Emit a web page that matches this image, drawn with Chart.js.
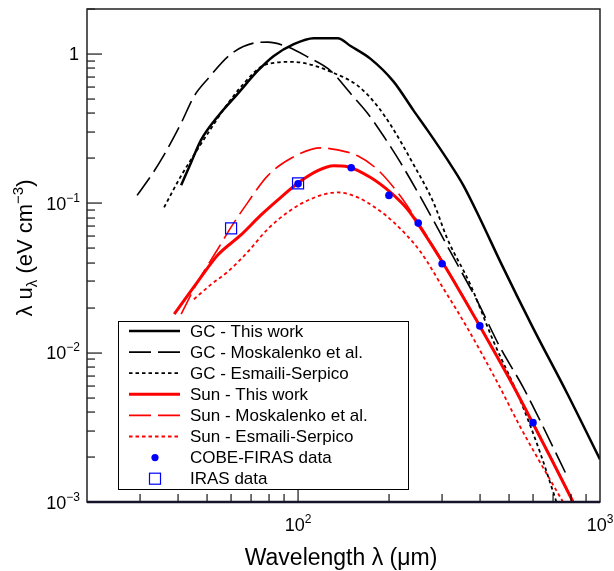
<!DOCTYPE html>
<html lang="en">
<head>
    <meta charset="UTF-8">
    <title>Interstellar radiation field: dust emission</title>
    <script src="https://cdn.jsdelivr.net/npm/chart.js@4"></script>
    <style>
        body{margin:0;background:#fff;}
        canvas{display:block;}
    </style>
</head>
<body>
    <canvas id="isrf" width="614" height="571"></canvas>
    <script>
        // wavelength (um) and lambda*u_lambda (eV cm^-3)
        const gcThisX=[41.0,44.2,47.7,54.3,63.2,73.6,83.1,96.8,112.7,135.3,149.3,173.9,207.2,241.1,268.2,312.3,352.7,401.4,467.4,600.6,778,1000];
        const gcThisY=[0.132,0.187,0.265,0.383,0.543,0.772,0.970,1.165,1.276,1.276,1.13,0.927,0.653,0.419,0.309,0.196,0.132,0.0783,0.0407,0.0146,0.00535,0.00193];

        const gcMoskX=[29.3,32.6,36.0,41.0,45.2,50.3,60.0,71.4,79.4,92.5,107.6,128.2,149.3,169.9,191.9,218.5,260.2,319.5,392.4,467.4,556.7,648.1,778];
        const gcMoskY=[0.113,0.153,0.211,0.344,0.519,0.683,1.0,1.183,1.201,1.113,0.955,0.772,0.543,0.401,0.282,0.187,0.1015,0.0474,0.0221,0.0108,0.00586,0.00319,0.00149];

        const gcEsmX=[36.0,41.0,44.2,50.3,58.6,66.1,75.3,83.1,94.6,107.6,128.2,157.5,183.4,205.6,239.4,280.7,312.3,372.0,443.1,544.1,633.5,699.4,721];
        const gcEsmY=[0.094,0.153,0.196,0.295,0.467,0.633,0.820,0.872,0.885,0.859,0.760,0.614,0.446,0.319,0.187,0.1015,0.0578,0.0286,0.0120,0.00481,0.00214,0.00117,0.00097];

        const sunThisX=[38.9,46.6,54.3,64.7,75.3,87.7,100.5,116.2,131.2,146.0,173.9,202.4,230.4,248.6,302.9,401.4,504.3,600.6,699.4,814.4];
        const sunThisY=[0.0181,0.0300,0.0452,0.0614,0.0833,0.1096,0.1377,0.1654,0.1785,0.1758,0.1487,0.1183,0.0913,0.0737,0.0394,0.01487,0.00653,0.00334,0.00184,0.001];

        const sunMoskX=[41.0,46.6,54.3,60.0,68.2,79.4,96.8,118.9,135.3,157.5,183.4,213.6,241.1,302.9,402.5,505.5,602,701,816];
        const sunMoskY=[0.0181,0.0300,0.0496,0.0693,0.1015,0.1533,0.2048,0.2349,0.2278,0.2079,0.168,0.1183,0.0833,0.0400,0.01487,0.00653,0.00334,0.00184,0.001];

        const sunEsmX=[45.2,51.5,58.6,68.2,79.4,92.5,104.4,121.6,135.3,157.5,183.4,207.2,254.3,302.9,363.6,453.3,544.1,633.5,754.6];
        const sunEsmY=[0.0228,0.0286,0.0349,0.0474,0.0673,0.0872,0.1015,0.1147,0.1183,0.1096,0.0913,0.0748,0.0474,0.0269,0.01464,0.00653,0.00319,0.00184,0.001];

        const cobeX=[100,150,200,250,300,400,600];
        const cobeY=[0.135,0.173,0.113,0.0737,0.0394,0.0151,0.0034];

        const irasX=[60,100];
        const irasY=[0.068,0.136];

        const FONT='"Liberation Sans", Arial, Helvetica, sans-serif';

        function pts(xs,ys){
            return xs.map((x,i)=>({x:x,y:ys[i]}));
        }

        function curve(label,xs,ys,color,width,dash,order){
            return {
                label:label,
                data:pts(xs,ys),
                showLine:true,
                borderColor:color,
                borderWidth:width,
                borderDash:dash,
                pointRadius:0,
                cubicInterpolationMode:'monotone',
                clip:0,
                order:order
            };
        }

        const LONG=[22,7];
        const DOT=[3.5,3];

        const datasets=[
            curve('GC - This work',gcThisX,gcThisY,'#000000',2.5,[],2),
            curve('GC - Moskalenko et al.',gcMoskX,gcMoskY,'#000000',1.6,LONG,3),
            curve('GC - Esmaili-Serpico',gcEsmX,gcEsmY,'#000000',1.8,DOT,3),
            curve('Sun - This work',sunThisX,sunThisY,'#ff0000',3,[],1),
            curve('Sun - Moskalenko et al.',sunMoskX,sunMoskY,'#ff0000',1.6,LONG,3),
            curve('Sun - Esmaili-Serpico',sunEsmX,sunEsmY,'#ff0000',1.8,DOT,3),
            {
                label:'COBE-FIRAS data',
                data:pts(cobeX,cobeY),
                showLine:false,
                pointStyle:'circle',
                pointRadius:3.8,
                backgroundColor:'#0000ff',
                borderColor:'#0000ff',
                borderWidth:0,
                order:0
            },
            {
                label:'IRAS data',
                data:pts(irasX,irasY),
                showLine:false,
                pointStyle:'rect',
                pointRadius:7.8,
                backgroundColor:'rgba(0,0,0,0)',
                borderColor:'#0000ff',
                borderWidth:1.2,
                order:0
            }
        ];

        // "10" with a raised exponent, or plain text when exp is null
        function drawPow(ctx,exp,x,y,align){
            ctx.font='18px '+FONT;
            const base=exp===null?'1':'10';
            const wb=ctx.measureText(base).width;
            ctx.font='12px '+FONT;
            const we=exp===null?0:ctx.measureText(exp).width;
            const w=wb+we;
            let x0=align==='right'?x-w:x-w/2;
            ctx.textAlign='left';
            ctx.textBaseline='alphabetic';
            ctx.font='18px '+FONT;
            ctx.fillText(base,x0,y);
            if(exp!==null){
                ctx.font='12px '+FONT;
                ctx.fillText(exp,x0+wb,y-8);
            }
        }

        // text built from pieces: [string, 'n' | 'sub' | 'sup']
        function drawRich(ctx,parts,cx,y,size){
            const small=Math.round(size*0.68);
            let w=0;
            parts.forEach(p=>{
                ctx.font=(p[1]==='n'?size:small)+'px '+FONT;
                w+=ctx.measureText(p[0]).width;
            });
            let x=cx-w/2;
            ctx.textAlign='left';
            ctx.textBaseline='alphabetic';
            parts.forEach(p=>{
                ctx.font=(p[1]==='n'?size:small)+'px '+FONT;
                const dy=p[1]==='sub'?5:(p[1]==='sup'?-9:0);
                ctx.fillText(p[0],x,y+dy);
                x+=ctx.measureText(p[0]).width;
            });
        }

        const rootStyle={
            id:'rootStyle',
            afterDatasetsDraw(chart){
                const ctx=chart.ctx;
                const a=chart.chartArea;
                const xs=chart.scales.x;
                const ys=chart.scales.y;
                ctx.save();
                ctx.setLineDash([]);
                ctx.globalAlpha=1;

                // inner tick marks (filled so no dash state can hide them)
                ctx.fillStyle='#000';
                for(let e=-3;e<=0;e++){
                    for(let m=1;m<=9;m++){
                        const v=m*Math.pow(10,e);
                        if(v>2) continue;
                        const py=Math.round(ys.getPixelForValue(v));
                        const len=m===1?15:8;
                        ctx.fillRect(a.left,py-0.5,len,1.1);
                    }
                }
                for(let e=1;e<=2;e++){
                    for(let m=1;m<=9;m++){
                        const v=m*Math.pow(10,e);
                        if(v<=20) continue;
                        const px=Math.round(xs.getPixelForValue(v));
                        const len=m===1?16:8;
                        ctx.fillRect(px-0.5,a.bottom-len,1.1,len);
                    }
                }

                // frame
                ctx.lineWidth=1.5;
                ctx.strokeStyle='#222';
                ctx.strokeRect(a.left,a.top,a.right-a.left,a.bottom-a.top);
                ctx.lineWidth=2.5;
                ctx.strokeStyle='#14142a';
                ctx.beginPath();
                ctx.moveTo(a.left,a.bottom);
                ctx.lineTo(a.right,a.bottom);
                ctx.stroke();

                // tick labels
                ctx.fillStyle='#000';
                const yLabels=[[1,null],[0.1,'\u22121'],[0.01,'\u22122'],[0.001,'\u22123']];
                yLabels.forEach(l=>{
                    const py=ys.getPixelForValue(l[0]);
                    drawPow(ctx,l[1],l[1]===null?79:80,py+6.5,'right');
                });
                [[100,'2'],[1000,'3']].forEach(l=>{
                    drawPow(ctx,l[1],xs.getPixelForValue(l[0]),531,'center');
                });

                // axis titles
                drawRich(ctx,[['Wavelength \u03bb (\u03bcm)','n']],341,565,23);
                ctx.save();
                ctx.translate(32,248);
                ctx.rotate(-Math.PI/2);
                drawRich(ctx,[['\u03bb u','n'],['\u03bb','sub'],[' (eV cm','n'],['\u22123','sup'],[')','n']],0,0,22);
                ctx.restore();

                // legend box
                const bx=118,by=321,bw=290,bh=168;
                ctx.fillStyle='#fff';
                ctx.fillRect(bx,by,bw,bh);
                ctx.lineWidth=1;
                ctx.strokeStyle='#000';
                ctx.strokeRect(bx+0.5,by+0.5,bw,bh);
                chart.data.datasets.forEach((ds,i)=>{
                    const ry=331+i*21.1;
                    if(ds.showLine){
                        ctx.save();
                        ctx.strokeStyle=ds.borderColor;
                        ctx.lineWidth=ds.borderWidth;
                        ctx.setLineDash(ds.borderDash);
                        ctx.beginPath();
                        ctx.moveTo(129,ry);
                        ctx.lineTo(180,ry);
                        ctx.stroke();
                        ctx.restore();
                    }else if(ds.pointStyle==='circle'){
                        ctx.fillStyle=ds.backgroundColor;
                        ctx.beginPath();
                        ctx.arc(155,ry,3.6,0,Math.PI*2);
                        ctx.fill();
                    }else{
                        ctx.strokeStyle=ds.borderColor;
                        ctx.lineWidth=1.2;
                        ctx.strokeRect(149.5,ry-5.5,11,11);
                    }
                    ctx.fillStyle='#000';
                    ctx.font='17px '+FONT;
                    ctx.textAlign='left';
                    ctx.textBaseline='middle';
                    ctx.fillText(ds.label,190,ry+1);
                });
                ctx.restore();
            }
        };

        new Chart(document.getElementById('isrf'),{
            type:'scatter',
            data:{datasets:datasets},
            options:{
                responsive:false,
                devicePixelRatio:1,
                animation:false,
                layout:{padding:{top:3.5,right:14,left:0,bottom:0}},
                scales:{
                    x:{
                        type:'logarithmic',
                        min:20,
                        max:1000,
                        grid:{display:false},
                        border:{display:false},
                        ticks:{display:false},
                        afterFit(s){s.height=69;}
                    },
                    y:{
                        type:'logarithmic',
                        min:0.001,
                        max:2,
                        grid:{display:false},
                        border:{display:false},
                        ticks:{display:false},
                        afterFit(s){s.width=87;}
                    }
                },
                plugins:{
                    legend:{display:false},
                    tooltip:{enabled:false}
                }
            },
            plugins:[rootStyle]
        });
    </script>
</body>
</html>
